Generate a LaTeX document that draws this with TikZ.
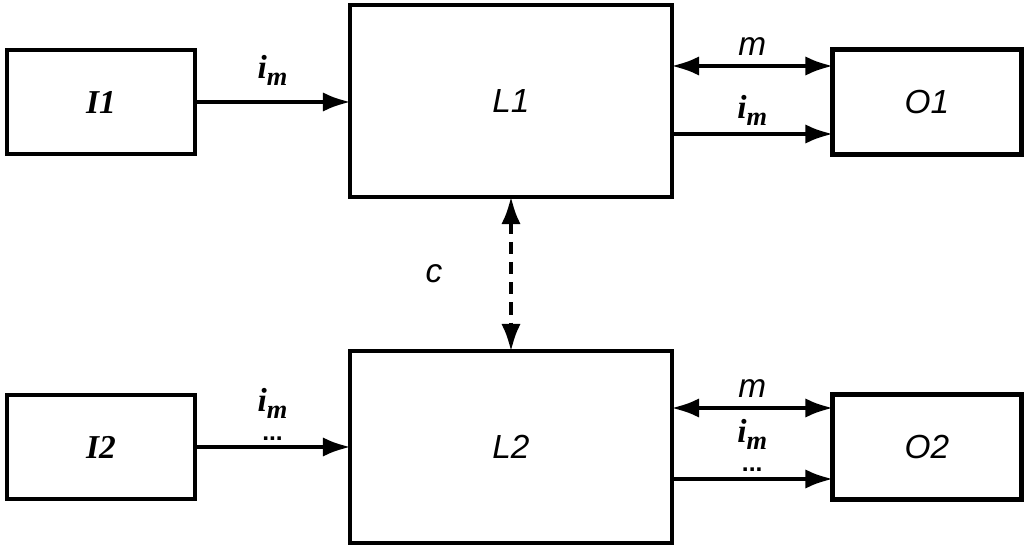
\documentclass[tikz,border=0pt]{standalone}
\usepackage{fontspec}
\setmainfont{Liberation Sans}
\newfontfamily\timesfont{Liberation Serif}
\usetikzlibrary{arrows.meta}
\tikzset{
  >={Latex[length=16pt,width=11pt]},
}
\tikzstyle{block}=[draw,line width=2.8pt,inner sep=0pt]
\tikzstyle{flow}=[line width=2.8pt,->,shorten >=-2pt,shorten <=-2pt]
\tikzstyle{every node}=[font=\fontsize{19}{21}\selectfont\itshape]
\newcommand{\inlab}[1]{{\timesfont\bfseries\itshape #1}}
\newcommand{\imlab}{{\timesfont\bfseries\itshape i\raisebox{-4pt}{\fontsize{15}{16}\selectfont m}}}
\newcommand{\dotlab}{{\upshape\bfseries\fontsize{14}{14}\selectfont...}}

\begin{document}
\begin{tikzpicture}[x=0.02cm,y=-0.02cm]
    \useasboundingbox (0,0) rectangle (1029,550);
    % blocks
    \node[block,minimum width=3.76cm,minimum height=2.08cm] (I1) at (101,102) {\inlab{I1}};
    \node[block,minimum width=6.44cm,minimum height=3.84cm] (L1) at (511,101) {L1};
    \node[block,minimum width=3.78cm,minimum height=2.10cm] (O1) at (927,102) {O1};
    \node[block,minimum width=3.76cm,minimum height=2.08cm] (I2) at (101,447) {\inlab{I2}};
    \node[block,minimum width=6.44cm,minimum height=3.84cm] (L2) at (511,447) {L2};
    \node[block,minimum width=3.78cm,minimum height=2.10cm] (O2) at (927,447) {O2};
    \coordinate (m1) at (0,66);
    \coordinate (r1) at (0,134);
    \coordinate (m2) at (0,408);
    \coordinate (r2) at (0,479);
    % connectors
    \draw[flow] (I1.east) -- (I1.east -| L1.west) node[midway,yshift=0.64cm]{\imlab};
    \draw[flow,<->] (L1.east |- m1) -- (O1.west |- m1) node[midway,yshift=0.38cm]{m};
    \draw[flow] (L1.east |- r1) -- (O1.west |- r1) node[midway,yshift=0.48cm]{\imlab};
    \draw[flow,<->,dash pattern=on 7pt off 4.5pt] (L1.south) -- (L2.north) node[midway,xshift=-1.54cm]{c};
    \draw[flow] (I2.east) -- (I2.east -| L2.west)
        node[midway,yshift=0.17cm,inner sep=0pt]{\dotlab} node[midway,yshift=0.88cm,inner sep=0pt]{\imlab};
    \draw[flow,<->] (L2.east |- m2) -- (O2.west |- m2) node[midway,yshift=0.38cm]{m};
    \draw[flow] (L2.east |- r2) -- (O2.west |- r2)
        node[midway,yshift=0.19cm,inner sep=0pt]{\dotlab} node[midway,yshift=0.9cm,inner sep=0pt]{\imlab};
\end{tikzpicture}
\end{document}
